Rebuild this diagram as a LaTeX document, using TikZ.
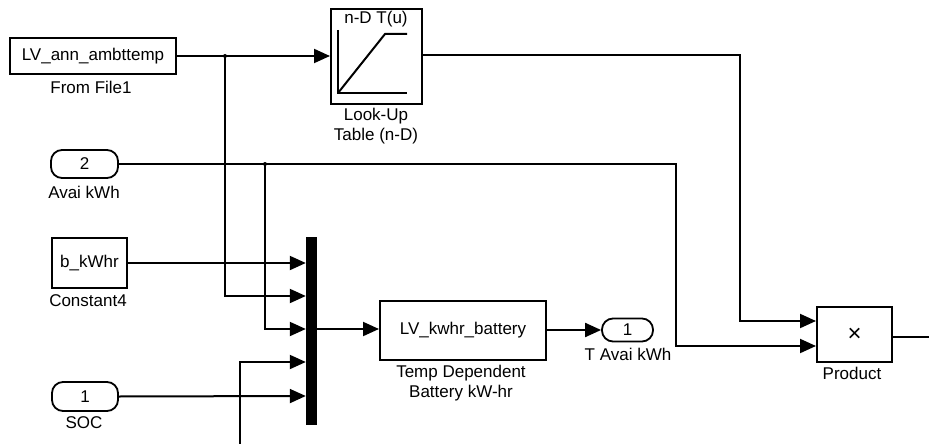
\documentclass[tikz,border=0pt]{standalone}
\usepackage{fontspec}
\setmainfont{Liberation Sans}
\usetikzlibrary{arrows.meta}
\begin{document}
\begin{tikzpicture}[x=1pt,y=-1pt,
  every node/.style={font=\fontsize{17}{20.5}\selectfont, inner sep=0pt},
  blk/.style={draw, line width=2pt, fill=white},
  port/.style={draw, line width=1.8pt, rounded corners=11pt, fill=white},
  lbl/.style={align=center},
  wire/.style={line width=2pt},
  sig/.style={line width=2pt, -{Triangle[length=16pt,width=14pt]}},
  jdot/.style={circle, fill=black, minimum size=4pt, inner sep=0pt}
]
\useasboundingbox (0,0) rectangle (929,444);

% blocks
\node[blk, minimum width=166pt, minimum height=36pt] (ff) at (93,56) {LV\_ann\_ambttemp};
\node[lbl] (ffl) at (91,87) {From File1};

\node[blk, minimum width=91pt, minimum height=95pt] (lut) at (376.5,56.5) {};
\node (lutt) at (376,19) {n-D T(u)};
\draw[line width=2pt] (338,30) -- (338,93) -- (407,93);
\draw[line width=2pt] (338,93) -- (385,34) -- (407,34);
\node[lbl] (lutl) at (376,126) {Look-Up\\Table (n-D)};

\node[port, minimum width=67pt, minimum height=28pt] (avai) at (84.5,164) {2};
\node[lbl] (avail) at (84,192) {Avai kWh};

\node[blk, minimum width=75pt, minimum height=50pt] (const) at (89.5,263) {b\_kWhr};
\node[lbl] (constl) at (88,301) {Constant4};

\node[port, minimum width=66pt, minimum height=29pt] (soc) at (85,396.5) {1};
\node[lbl] (socl) at (84,423) {SOC};

\node[draw, fill=black, minimum width=10pt, minimum height=187pt] (mux) at (311,330.5) {};

\node[blk, minimum width=166pt, minimum height=59pt] (batt) at (463,330) {LV\_kwhr\_battery};
\node[lbl] (battl) at (461,383) {Temp Dependent\\Battery kW-hr};

\node[port, minimum width=51pt, minimum height=23pt] (tout) at (627.5,330) {1};
\node[lbl] (toutl) at (628,354) {T Avai kWh};

\node[blk, minimum width=75pt, minimum height=55pt] (prod) at (854.5,334.5) {\fontsize{24}{24}\selectfont ×};
\node[lbl] (prodl) at (852,373) {Product};

% coordinates
\coordinate (m1) at (mux.west |- 0,263);
\coordinate (m2) at (mux.west |- 0,296);
\coordinate (m3) at (mux.west |- 0,329);
\coordinate (m4) at (mux.west |- 0,362);
\coordinate (m5) at (mux.west |- 0,396);
\coordinate (p1) at (prod.west |- 0,321);
\coordinate (p2) at (prod.west |- 0,346);
\coordinate (j1) at (225,56);
\coordinate (j2) at (265,164);
\coordinate (bot) at (240,444);
\coordinate (outr) at (929,337);

% connectors
\draw[sig] (ff.east |- j1) -- (lut.west |- j1);
\draw[sig] (j1) -- (j1 |- m2) -- (m2);
\node[jdot] at (j1) {};
\draw[sig] (lut.east |- 0,55) -- (740,55) -- (740,321) -- (p1);
\draw[sig] (avai.east) -- (676,164) -- (676,346) -- (p2);
\draw[sig] (j2) -- (j2 |- m3) -- (m3);
\node[jdot] at (j2) {};
\draw[sig] (const.east) -- (m1);
\draw[sig] (bot) -- (bot |- m4) -- (m4);
\draw[sig] (soc.east) -- (m5);
\draw[sig] (mux.east |- m3) -- (batt.west |- m3);
\draw[sig] (batt.east) -- (tout.west);
\draw[wire] (prod.east |- outr) -- (outr);
\end{tikzpicture}
\end{document}
